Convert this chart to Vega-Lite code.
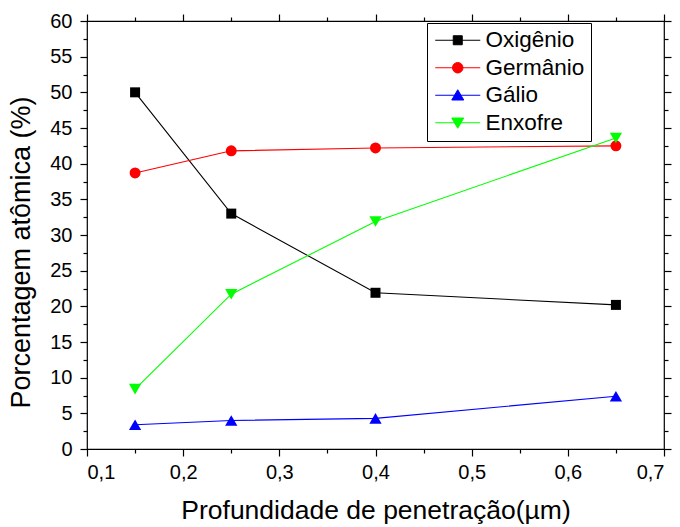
{
  "$schema": "https://vega.github.io/schema/vega-lite/v6.json",
  "autosize": "none",
  "width": 577,
  "height": 428,
  "padding": {"left": 87, "top": 21, "right": 16, "bottom": 78},
  "background": "white",
  "config": {
    "font": "Liberation Sans",
    "view": {"stroke": "#000000", "strokeWidth": 1.2},
    "axis": {"domain": false, "grid": false, "tickColor": "#000000", "tickWidth": 1.2, "labelColor": "#000000", "titleColor": "#000000", "labelFont": "Liberation Sans", "titleFont": "Liberation Sans", "labelFontSize": 20, "titleFontSize": 26.5, "titleFontWeight": "normal"},
    "legend": {"orient": "none", "legendX": 340, "legendY": 2, "strokeColor": "#000000", "fillColor": "#FFFFFF", "padding": 6, "labelFontSize": 22.5, "labelFont": "Liberation Sans", "labelColor": "#000000", "labelOffset": 30, "rowPadding": 4.5, "symbolSize": 100, "symbolStrokeWidth": 1, "symbolOpacity": 1}
  },
  "data": {
    "values": [
      {"x": 0.15, "y": 50.0, "series": "Oxigênio"},
      {"x": 0.25, "y": 33.0, "series": "Oxigênio"},
      {"x": 0.4, "y": 21.9, "series": "Oxigênio"},
      {"x": 0.65, "y": 20.2, "series": "Oxigênio"},
      {"x": 0.15, "y": 38.7, "series": "Germânio"},
      {"x": 0.25, "y": 41.8, "series": "Germânio"},
      {"x": 0.4, "y": 42.2, "series": "Germânio"},
      {"x": 0.65, "y": 42.5, "series": "Germânio"},
      {"x": 0.15, "y": 3.4, "series": "Gálio"},
      {"x": 0.25, "y": 4.0, "series": "Gálio"},
      {"x": 0.4, "y": 4.3, "series": "Gálio"},
      {"x": 0.65, "y": 7.4, "series": "Gálio"},
      {"x": 0.15, "y": 8.4, "series": "Enxofre"},
      {"x": 0.25, "y": 21.7, "series": "Enxofre"},
      {"x": 0.4, "y": 31.9, "series": "Enxofre"},
      {"x": 0.65, "y": 43.6, "series": "Enxofre"}
    ]
  },
  "layer": [
    {
      "mark": {"type": "point", "opacity": 0},
      "encoding": {
        "x": {"field": "x", "type": "quantitative", "scale": {"domain": [0.1, 0.7], "nice": false, "zero": false},
          "axis": {"orient": "bottom", "values": [0.15, 0.25, 0.35, 0.45, 0.55, 0.65], "labels": false, "tickSize": 4, "title": null}},
        "y": {"field": "y", "type": "quantitative", "scale": {"domain": [0, 60], "nice": false, "zero": false},
          "axis": {"orient": "left", "values": [2.5, 7.5, 12.5, 17.5, 22.5, 27.5, 32.5, 37.5, 42.5, 47.5, 52.5, 57.5], "labels": false, "tickSize": 4, "title": null}}
      }
    },
    {
      "mark": {"type": "point", "opacity": 0},
      "encoding": {
        "x": {"field": "x", "type": "quantitative",
          "axis": {"orient": "top", "values": [0.1, 0.2, 0.3, 0.4, 0.5, 0.6, 0.7], "labels": false, "tickSize": 7, "title": null}},
        "y": {"field": "y", "type": "quantitative",
          "axis": {"orient": "right", "values": [0, 5, 10, 15, 20, 25, 30, 35, 40, 45, 50, 55, 60], "labels": false, "tickSize": 7, "title": null}}
      }
    },
    {
      "mark": {"type": "point", "opacity": 0},
      "encoding": {
        "x": {"field": "x", "type": "quantitative",
          "axis": {"orient": "top", "values": [0.15, 0.25, 0.35, 0.45, 0.55, 0.65], "labels": false, "tickSize": 4, "title": null}},
        "y": {"field": "y", "type": "quantitative",
          "axis": {"orient": "right", "values": [2.5, 7.5, 12.5, 17.5, 22.5, 27.5, 32.5, 37.5, 42.5, 47.5, 52.5, 57.5], "labels": false, "tickSize": 4, "title": null}}
      }
    },
    {
      "transform": [{"filter": "datum.x > 5"}],
      "mark": {"type": "point", "filled": true, "opacity": 1, "size": 100, "strokeWidth": 1},
      "encoding": {
        "x": {"field": "x", "type": "quantitative", "axis": null},
        "y": {"field": "y", "type": "quantitative", "axis": null},
        "fill": {"field": "series", "type": "nominal", "title": null,
          "scale": {"domain": ["Oxigênio", "Germânio", "Gálio", "Enxofre"], "range": ["#000000", "#FF0000", "#0000FF", "#00FF00"]}},
        "stroke": {"field": "series", "type": "nominal", "title": null,
          "scale": {"domain": ["Oxigênio", "Germânio", "Gálio", "Enxofre"], "range": ["#000000", "#FF0000", "#0000FF", "#00FF00"]}},
        "shape": {"field": "series", "type": "nominal", "title": null,
          "scale": {"domain": ["Oxigênio", "Germânio", "Gálio", "Enxofre"], "range": ["M-1.8,0H7.2M1.8,-0.9H3.6V0.9H1.8Z", "M-1.8,0H7.2M3.75,0A1.05,1.05 0 1,1 1.65,0A1.05,1.05 0 1,1 3.75,0Z", "M-1.8,0H7.2M1.5,0.95L2.7,-1.1L3.9,0.95Z", "M-1.8,0H7.2M1.5,-0.95L2.7,1.1L3.9,-0.95Z"]}}
      }
    },
    {
      "mark": {"type": "line", "strokeWidth": 1.1},
      "encoding": {
        "x": {"field": "x", "type": "quantitative",
          "axis": {"orient": "bottom", "values": [0.1, 0.2, 0.3, 0.4, 0.5, 0.6, 0.7], "tickSize": 7, "labelPadding": 6,
            "labelExpr": "replace(format(datum.value, '.1f'), '.', ',')",
            "title": "Profundidade de penetração(µm)", "titlePadding": 15}},
        "y": {"field": "y", "type": "quantitative",
          "axis": {"orient": "left", "values": [0, 5, 10, 15, 20, 25, 30, 35, 40, 45, 50, 55, 60], "tickSize": 7, "labelPadding": 8,
            "title": "Porcentagem atômica (%)", "titlePadding": 14, "titleFontSize": 27, "titleY": 231}},
        "color": {"field": "series", "type": "nominal", "legend": null,
          "scale": {"domain": ["Enxofre", "Germânio", "Gálio", "Oxigênio"], "range": ["#00FF00", "#FF0000", "#0000FF", "#000000"]}},
        "detail": {"field": "series"}
      }
    },
    {
      "transform": [{"filter": "datum.series == 'Oxigênio'"}],
      "mark": {"type": "point", "filled": true, "opacity": 1, "size": 100, "shape": "square"},
      "encoding": {
        "x": {"field": "x", "type": "quantitative", "axis": null},
        "y": {"field": "y", "type": "quantitative", "axis": null},
        "color": {"field": "series", "type": "nominal", "legend": null}
      }
    },
    {
      "transform": [{"filter": "datum.series == 'Germânio'"}],
      "mark": {"type": "point", "filled": true, "opacity": 1, "size": 120, "shape": "circle"},
      "encoding": {
        "x": {"field": "x", "type": "quantitative", "axis": null},
        "y": {"field": "y", "type": "quantitative", "axis": null},
        "color": {"field": "series", "type": "nominal", "legend": null}
      }
    },
    {
      "transform": [{"filter": "datum.series == 'Gálio'"}],
      "mark": {"type": "point", "filled": true, "opacity": 1, "size": 150, "shape": "triangle-up"},
      "encoding": {
        "x": {"field": "x", "type": "quantitative", "axis": null},
        "y": {"field": "y", "type": "quantitative", "axis": null},
        "color": {"field": "series", "type": "nominal", "legend": null}
      }
    },
    {
      "transform": [{"filter": "datum.series == 'Enxofre'"}],
      "mark": {"type": "point", "filled": true, "opacity": 1, "size": 150, "shape": "triangle-down"},
      "encoding": {
        "x": {"field": "x", "type": "quantitative", "axis": null},
        "y": {"field": "y", "type": "quantitative", "axis": null},
        "color": {"field": "series", "type": "nominal", "legend": null}
      }
    }
  ],
  "resolve": {"axis": {"x": "independent", "y": "independent"}}
}
